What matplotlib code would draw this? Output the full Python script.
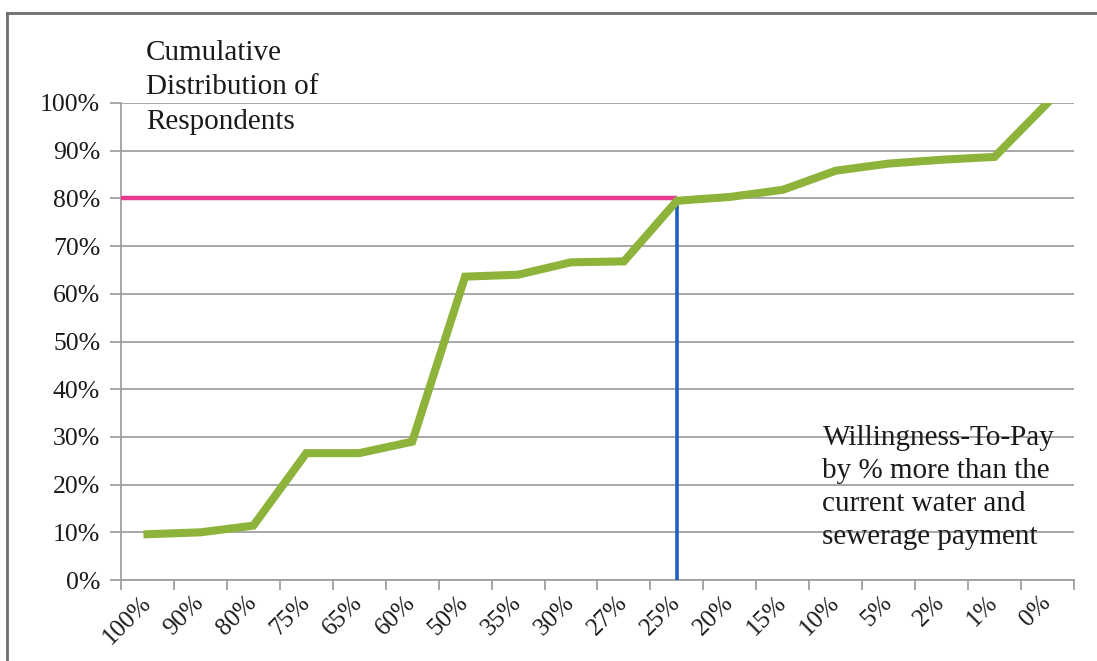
import matplotlib
matplotlib.use("Agg")
import matplotlib.pyplot as plt
from matplotlib.lines import Line2D
import numpy as np

# Willingness-to-pay levels (percent above current bill) and cumulative share of respondents
wtp_levels = ["100%", "90%", "80%", "75%", "65%", "60%", "50%", "35%", "30%",
              "27%", "25%", "20%", "15%", "10%", "5%", "2%", "1%", "0%"]
cumulative_share = [9.6, 10.0, 11.4, 26.6, 26.6, 29.0, 63.6, 64.0, 66.6,
                    66.8, 79.5, 80.3, 81.8, 85.8, 87.3, 88.1, 88.7, 100.0]
threshold_share = 80.0
threshold_level = "25%"

plt.rcParams["font.family"] = ["Liberation Serif", "DejaVu Serif"]

fig = plt.figure(figsize=(10.97, 6.61), dpi=100)
ax = fig.add_axes([0.1103, 0.1225, 0.8687, 0.7217])

x = np.arange(len(wtp_levels)) + 0.5
ax.set_xlim(0, len(wtp_levels))
ax.set_ylim(0, 100)

# grid
ax.set_yticks(np.arange(0, 101, 10))
ax.set_yticklabels([f"{v}%" for v in range(0, 101, 10)], fontsize=18.5)
ax.yaxis.grid(True, color="#a0a0a0", linewidth=1.3)
ax.set_axisbelow(True)

# category boundaries carry tick marks, centers carry labels
ax.set_xticks(np.arange(0, len(wtp_levels) + 1))
ax.set_xticklabels([])
ax.set_xticks(x, minor=True)
ax.set_xticklabels(wtp_levels, minor=True, rotation=45, ha="right",
                   va="center", rotation_mode="anchor", fontsize=18)
ax.tick_params(axis="x", which="major", direction="out", length=7,
               color="#a0a0a0", width=1.3)
ax.tick_params(axis="x", which="minor", length=0, pad=14)
ax.tick_params(axis="y", direction="out", length=8, color="#a0a0a0",
               width=1.3, pad=7)

for side in ("top", "right"):
    ax.spines[side].set_visible(False)
for side in ("left", "bottom"):
    ax.spines[side].set_color("#a0a0a0")
    ax.spines[side].set_linewidth(1.3)

# threshold markers
ti = wtp_levels.index(threshold_level)
ax.plot([0, x[ti]], [threshold_share, threshold_share], color="#e8388f",
        linewidth=3.2, solid_capstyle="butt", zorder=3)
ax.plot([x[ti], x[ti]], [0, threshold_share], color="#1f5fc0",
        linewidth=2.6, solid_capstyle="butt", zorder=3)

# cumulative curve
ax.plot(x, cumulative_share, color="#8db33a", linewidth=5.8,
        solid_joinstyle="miter", zorder=4)

ax.text(13.25, 32.6, "Willingness-To-Pay\nby % more than the\ncurrent water and\nsewerage payment",
        fontsize=21, va="top", ha="left", linespacing=1.36, color="#1a1a1a")
fig.text(146 / 1097, 1 - 40 / 661, "Cumulative\nDistribution of\nRespondents",
         fontsize=21, va="top", ha="left", linespacing=1.42, color="#1a1a1a")

for lbl in ax.get_yticklabels() + ax.get_xticklabels(minor=True):
    lbl.set_color("#1a1a1a")

# frame edges along the top and left of the chart area
top_y = 1 - 13 / 661
left_x = 7 / 1097
fig.add_artist(Line2D([left_x, 1.0], [top_y, top_y], transform=fig.transFigure,
                      color="#6e6e6e", linewidth=2.0))
fig.add_artist(Line2D([left_x, left_x], [0.0, top_y], transform=fig.transFigure,
                      color="#6e6e6e", linewidth=2.0))

fig.savefig("out.png", dpi=100)
